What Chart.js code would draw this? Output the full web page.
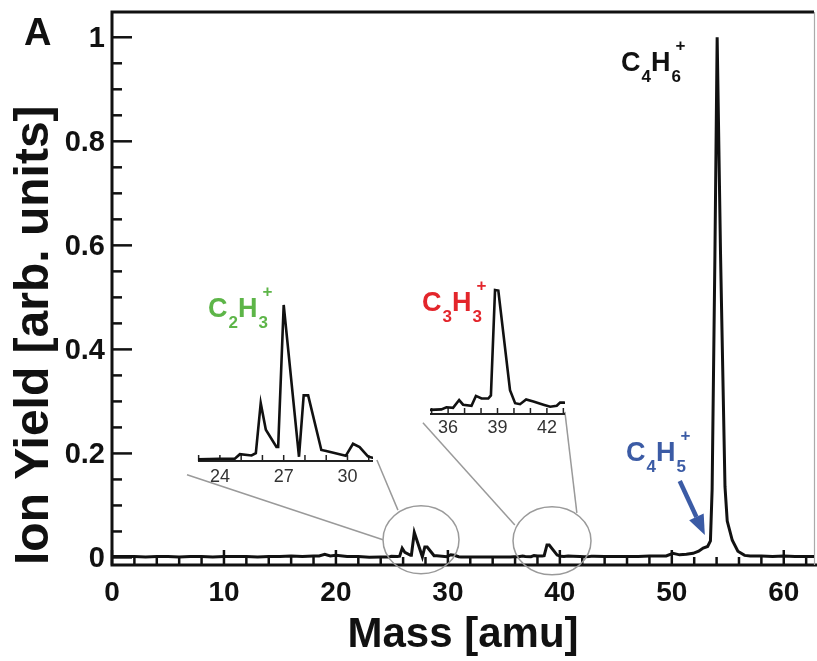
<!DOCTYPE html>
<html><head><meta charset="utf-8">
<script src="https://cdn.jsdelivr.net/npm/chart.js@4.4.1/dist/chart.umd.min.js"></script>
<style>
html,body{margin:0;padding:0;background:#fff;}
#wrap{position:relative;width:817px;height:661px;overflow:hidden;background:#fff;}
#wrap canvas{position:absolute;}
.lbl{position:absolute;font-family:"Liberation Sans",Arial,Helvetica,sans-serif;font-weight:bold;line-height:1;white-space:nowrap;font-size:27px;}
.lbl .sb{font-size:17px;position:relative;top:11px;margin-left:1px;}
.lbl .st{position:relative;display:inline-block;width:14px;height:1px;vertical-align:baseline;}
.lbl .st .p{position:absolute;left:5px;bottom:17px;font-size:17px;line-height:1;}
.lbl .st .d{position:absolute;left:1px;bottom:-14px;font-size:17px;line-height:1;}
</style></head><body>
<div id="wrap">
<canvas id="main" width="817" height="661" style="left:0;top:0"></canvas>
<canvas id="ins1" width="190" height="210" style="left:190px;top:285px"></canvas>
<canvas id="ins2" width="150" height="180" style="left:422px;top:270px"></canvas>
<div class="lbl" style="left:24px;top:13px;font-size:38px;color:#111">A</div>
<div class="lbl" style="left:621px;top:49px;color:#111">C<span class="sb">4</span>H<span class="st"><span class="p">+</span><span class="d">6</span></span></div>
<div class="lbl" style="left:626px;top:439px;color:#3b5ba5">C<span class="sb">4</span>H<span class="st"><span class="p">+</span><span class="d">5</span></span></div>
<div class="lbl" style="left:208px;top:295px;color:#5db548">C<span class="sb">2</span>H<span class="st"><span class="p">+</span><span class="d">3</span></span></div>
<div class="lbl" style="left:422px;top:289px;color:#e3252b">C<span class="sb">3</span>H<span class="st"><span class="p">+</span><span class="d">3</span></span></div>
</div>
<script>
// ---- data ----
const mass = [0,1,2,3,4,5,6,7,8,9,10,11,12,13,14,15,16,17,18,18.5,19,19.5,20,21,22,
  22.98,24.0,24.7,24.94,25.49,25.69,25.92,26.16,26.66,26.74,27.0,27.72,27.94,28.15,28.77,29.0,29.92,30.26,30.57,30.96,31.17,
  32,33,34,
  34.88,35.59,35.9,36.3,36.67,36.91,37.42,37.69,38.03,38.44,38.6,38.85,39.05,39.76,40.07,40.37,40.74,41.18,41.79,42.2,42.6,42.8,43.05,
  44,45,46,47,48,49,49.5,50.1,50.7,51.3,51.9,52.4,52.8,53.2,53.45,53.6,53.85,54.05,54.35,54.75,54.95,55.4,55.9,56.5,57,58,59,60,61,62,62.7];
const ionYield = [0.002,0.002,0.002,0.001,0.002,0.002,0.001,0.002,0.002,0.001,0.002,0.002,0.002,0.001,0.002,0.002,0.003,0.002,0.003,0.003,0.006,0.003,0.004,0.002,0.002,
  0.0005,0.0007,0.0007,0.0021,0.0017,0.0024,0.0178,0.0096,0.0043,0.0043,0.048,0.0013,0.0202,0.0202,0.0034,0.0031,0.0016,0.0053,0.0043,0.0014,0.0010,
  0.001,0.001,0.001,
  0.0008,0.0009,0.0013,0.0012,0.0027,0.0018,0.0016,0.0035,0.0030,0.0030,0.0036,0.0240,0.0239,0.0046,0.0021,0.0019,0.0028,0.0024,0.0018,0.0014,0.0016,0.0022,0.0022,
  0.002,0.002,0.002,0.002,0.003,0.003,0.003,0.008,0.005,0.006,0.008,0.012,0.018,0.021,0.032,0.13,0.58,1.0,0.585,0.136,0.07,0.033,0.012,0.004,0.003,0.003,0.002,0.003,0.002,0.002,0.002];

const xTickValues = [0,10,20,30,40,50,60];
const xTickLabels = ['0','10','20','30','40','50','60'];
const yTickValues = [0,0.2,0.4,0.6,0.8,1];
const yTickLabels = ['0','0.2','0.4','0.6','0.8','1'];
const inset1Ticks = [23,24,25,26,27,28,29,30,31];
const inset1Labels = ['','24','','','27','','','30',''];
const inset2Ticks = [35,36,37,38,39,40,41,42,43];
const inset2Labels = ['','36','','','39','','','42',''];

const FONT = '"Liberation Sans", Arial, Helvetica, sans-serif';
Chart.defaults.font.family = FONT;
Chart.defaults.color = '#111';

const pts = mass.map((m,i)=>({x:m,y:ionYield[i]}));

const mainDeco = {
  id:'mainDeco',
  beforeDatasetsDraw(chart){
    const {ctx, chartArea:a, scales:{x,y}} = chart;
    ctx.save();
    ctx.strokeStyle='#111';
    ctx.lineWidth=2.5;
    for(let v=0; v<=1.0001; v+=0.05){
      const p=y.getPixelForValue(v);
      const major = yTickValues.some(t=>Math.abs(t-v)<1e-6);
      ctx.beginPath(); ctx.moveTo(a.left,p); ctx.lineTo(a.left+(major?20:10),p); ctx.stroke();
    }
    for(let v=0; v<=62; v+=2){
      const p=x.getPixelForValue(v);
      const major = xTickValues.includes(v);
      ctx.beginPath(); ctx.moveTo(p,a.bottom); ctx.lineTo(p,a.bottom-(major?15:8)); ctx.stroke();
    }
    ctx.lineWidth=3;
    ctx.beginPath();
    ctx.moveTo(a.right,a.top); ctx.lineTo(a.left,a.top); ctx.lineTo(a.left,a.bottom); ctx.lineTo(a.right+3,a.bottom);
    ctx.stroke();
    ctx.strokeStyle='#aaa'; ctx.lineWidth=1.2;
    ctx.beginPath(); ctx.moveTo(a.right+0.5,a.top); ctx.lineTo(a.right+0.5,a.bottom); ctx.stroke();
    ctx.restore();
  },
  afterDatasetsDraw(chart){
    const {ctx, scales:{x,y}} = chart;
    ctx.save();
    ctx.strokeStyle='#9a9a9a'; ctx.lineWidth=1.5;
    [[27.6,0.034,38,34],[39.3,0.032,39,34]].forEach(c=>{
      ctx.beginPath();
      ctx.ellipse(x.getPixelForValue(c[0]),y.getPixelForValue(c[1]),c[2],c[3],0,0,Math.PI*2);
      ctx.stroke();
    });
    [[6.70,0.159,24.2,0.034],[23.66,0.1875,25.54,0.091],[27.77,0.259,35.98,0.0625],[40.45,0.28,41.52,0.0856]].forEach(l=>{
      ctx.beginPath();
      ctx.moveTo(x.getPixelForValue(l[0]),y.getPixelForValue(l[1]));
      ctx.lineTo(x.getPixelForValue(l[2]),y.getPixelForValue(l[3]));
      ctx.stroke();
    });
    const x0=x.getPixelForValue(50.71), y0=y.getPixelForValue(0.147);
    const x1=x.getPixelForValue(52.95), y1=y.getPixelForValue(0.043);
    const ang=Math.atan2(y1-y0,x1-x0), hl=20, hw=8;
    const bx=x1-hl*Math.cos(ang), by=y1-hl*Math.sin(ang);
    ctx.strokeStyle='#3b5ba5'; ctx.fillStyle='#3b5ba5'; ctx.lineWidth=4.5;
    ctx.beginPath(); ctx.moveTo(x0,y0); ctx.lineTo(bx,by); ctx.stroke();
    ctx.beginPath(); ctx.moveTo(x1,y1);
    ctx.lineTo(bx+hw*Math.sin(ang),by-hw*Math.cos(ang));
    ctx.lineTo(bx-hw*Math.sin(ang),by+hw*Math.cos(ang));
    ctx.closePath(); ctx.fill();
    ctx.restore();
  }
};

new Chart(document.getElementById('main'),{
  type:'scatter',
  data:{datasets:[{data:pts,showLine:true,borderColor:'#111',borderWidth:3,pointRadius:0,tension:0,fill:false}]},
  options:{
    responsive:false, animation:false, devicePixelRatio:1,
    layout:{padding:{top:12,right:3,left:0,bottom:0}},
    plugins:{legend:{display:false},tooltip:{enabled:false}},
    scales:{
      x:{type:'linear',min:0,max:62.7,
        afterBuildTicks:s=>{s.ticks=xTickValues.map(v=>({value:v}));},
        afterFit:s=>{s.height=96;s.paddingLeft=0;s.paddingRight=0;},
        grid:{display:false,drawTicks:false},border:{display:false},
        ticks:{font:{size:28,weight:'bold'},color:'#111',padding:11,maxRotation:0,autoSkip:false,
          callback:(v)=>xTickLabels[xTickValues.indexOf(v)]},
        title:{display:true,text:'Mass [amu]',font:{size:42,weight:'bold'},color:'#111',padding:{top:0,bottom:0}}
      },
      y:{type:'linear',min:-0.0145,max:1.0486,
        afterBuildTicks:s=>{s.ticks=yTickValues.map(v=>({value:v}));},
        afterFit:s=>{s.width=112;s.paddingTop=0;s.paddingBottom=0;},
        grid:{display:false,drawTicks:false},border:{display:false},
        ticks:{font:{size:29,weight:'bold'},color:'#111',padding:7,labelOffset:2,autoSkip:false,
          callback:(v)=>yTickLabels[yTickValues.findIndex(t=>Math.abs(t-v)<1e-9)]},
        title:{display:true,text:'Ion Yield [arb. units]',align:'start',font:{size:48,weight:'bold'},color:'#111',padding:{top:6,bottom:0}}
      }
    }
  },
  plugins:[mainDeco]
});

const insetAxis = {
  id:'insetAxis',
  beforeDatasetsDraw(chart){
    const {ctx, chartArea:a, scales:{x}} = chart;
    ctx.save(); ctx.strokeStyle='#222'; ctx.lineWidth=2;
    ctx.beginPath(); ctx.moveTo(a.left,a.bottom); ctx.lineTo(a.right,a.bottom); ctx.stroke();
    ctx.lineWidth=1.5;
    x.ticks.forEach(t=>{const p=x.getPixelForValue(t.value);
      ctx.beginPath(); ctx.moveTo(p,a.bottom); ctx.lineTo(p,a.bottom-6); ctx.stroke();});
    ctx.restore();
  }
};

function makeInset(id, xmin, xmax, ymax, ticks, labels, axisH, pad){
  const d = mass.map((m,i)=>({x:m,y:ionYield[i]})).filter(p=>p.x>=xmin-1.5 && p.x<=xmax+1.5);
  new Chart(document.getElementById(id),{
    type:'scatter',
    data:{datasets:[{data:d,showLine:true,borderColor:'#111',borderWidth:2.6,pointRadius:0,tension:0}]},
    options:{
      responsive:false, animation:false, devicePixelRatio:1,
      layout:{padding:{left:8,right:7,top:0,bottom:0}},
      plugins:{legend:{display:false},tooltip:{enabled:false}},
      scales:{
        x:{type:'linear',min:xmin,max:xmax,
          afterBuildTicks:s=>{s.ticks=ticks.map(v=>({value:v}));},
          afterFit:s=>{s.height=axisH;s.paddingLeft=0;s.paddingRight=0;},
          grid:{display:false,drawTicks:false},border:{display:false},
          ticks:{font:{size:18},color:'#333',padding:pad,maxRotation:0,autoSkip:false,
            callback:(v)=>labels[ticks.indexOf(v)]}},
        y:{display:false,min:0,max:ymax}
      }
    },
    plugins:[insetAxis]
  });
}
makeInset('ins1',22.97,31.2,0.05415,inset1Ticks,inset1Labels,34,5);
makeInset('ins2',34.9,43.1,0.02787,inset2Ticks,inset2Labels,36,3);
</script>
</body></html>
